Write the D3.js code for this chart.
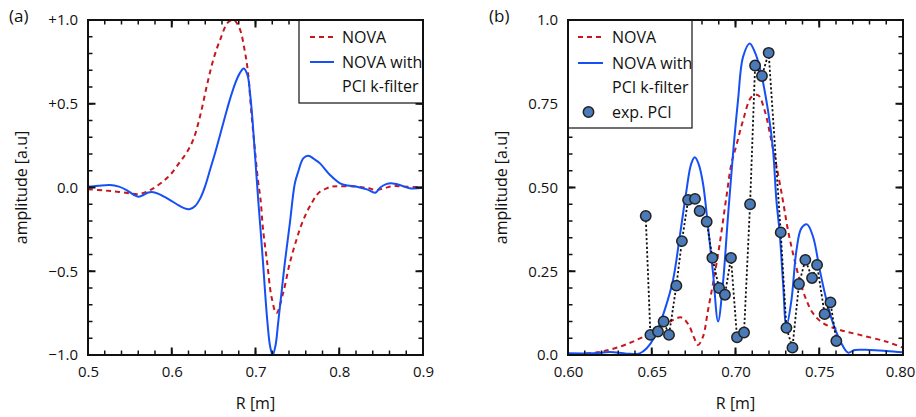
<!DOCTYPE html>
<html>
<head>
<meta charset="utf-8">
<script src="https://cdn.jsdelivr.net/npm/d3@7/dist/d3.min.js"></script>
<style>
  html, body { margin: 0; padding: 0; background: #fff; }
  svg text { font-family: "Open Sans", "DejaVu Sans", sans-serif; fill: #111; }
</style>
</head>
<body>
<svg id="chart" width="916" height="417"></svg>
<script>
// ---------- Panel (a): simulated mode structure ----------
const novaA = [
  [0.500,-0.010],[0.520,-0.018],[0.535,-0.025],[0.550,-0.035],[0.560,-0.040],[0.570,-0.025],
  [0.578,-0.005],[0.588,0.030],[0.598,0.075],[0.610,0.154],[0.618,0.210],[0.626,0.290],
  [0.634,0.430],[0.642,0.610],[0.650,0.770],[0.658,0.885],[0.667,0.985],[0.674,1.000],
  [0.681,0.950],[0.687,0.820],[0.691,0.690],[0.695,0.450],[0.699,0.240],[0.703,0.040],
  [0.706,-0.070],[0.709,-0.250],[0.714,-0.450],[0.719,-0.650],[0.725,-0.750],[0.733,-0.630],
  [0.741,-0.450],[0.749,-0.310],[0.755,-0.220],[0.761,-0.150],[0.767,-0.094],[0.773,-0.045],
  [0.777,-0.025],[0.785,-0.005],[0.791,0.005],[0.800,0.008],[0.820,0.005],[0.835,-0.005],
  [0.845,-0.015],[0.855,-0.002],[0.865,0.008],[0.880,0.005],[0.900,0.000]
];
const filteredA = [
  [0.500,0.005],[0.512,0.010],[0.526,0.015],[0.537,0.005],[0.546,-0.015],[0.555,-0.045],
  [0.560,-0.055],[0.566,-0.045],[0.572,-0.030],[0.578,-0.028],[0.585,-0.040],[0.592,-0.058],
  [0.598,-0.075],[0.606,-0.100],[0.614,-0.122],[0.621,-0.130],[0.628,-0.110],[0.634,-0.065],
  [0.640,0.010],[0.646,0.110],[0.652,0.210],[0.658,0.320],[0.664,0.430],[0.670,0.535],
  [0.676,0.625],[0.681,0.680],[0.686,0.710],[0.6905,0.670],[0.6935,0.560],[0.6960,0.430],
  [0.6994,0.194],[0.7034,-0.085],[0.706,-0.250],[0.709,-0.450],[0.714,-0.790],[0.7175,-0.950],
  [0.7205,-1.000],[0.724,-0.940],[0.727,-0.810],[0.731,-0.630],[0.735,-0.450],[0.741,-0.214],
  [0.747,0.025],[0.751,0.094],[0.757,0.174],[0.763,0.190],[0.770,0.170],[0.777,0.144],
  [0.789,0.075],[0.801,0.025],[0.810,0.012],[0.821,0.005],[0.833,-0.011],[0.843,-0.031],
  [0.849,0.000],[0.856,0.020],[0.862,0.025],[0.872,0.015],[0.884,-0.005],[0.900,-0.002]
];
const xTicksA = [0.5, 0.6, 0.7, 0.8, 0.9];
const yTicksA = [-1.0, -0.5, 0.0, 0.5, 1.0];
const yTickLabelsA = ["\u22121.0", "\u22120.5", "0.0", "+0.5", "+1.0"];

// ---------- Panel (b): amplitude profiles vs. PCI measurement ----------
const novaB = [
  [0.600,0.000],[0.610,0.004],[0.620,0.010],[0.631,0.025],[0.641,0.045],[0.651,0.070],
  [0.661,0.100],[0.6677,0.112],[0.672,0.090],[0.675,0.055],[0.6776,0.030],[0.6806,0.055],
  [0.6836,0.134],[0.6866,0.214],[0.6906,0.333],[0.6946,0.473],[0.6976,0.572],[0.7005,0.625],
  [0.7045,0.700],[0.7095,0.770],[0.7134,0.776],[0.7174,0.730],[0.7214,0.640],[0.7254,0.540],
  [0.7284,0.458],[0.7313,0.373],[0.7343,0.304],[0.7383,0.224],[0.7423,0.164],[0.7463,0.124],
  [0.7522,0.095],[0.7622,0.075],[0.7742,0.060],[0.790,0.040],[0.800,0.022]
];
const filteredB = [
  [0.600,0.005],[0.615,0.005],[0.625,0.009],[0.635,0.004],[0.6428,0.005],[0.647,0.020],
  [0.6518,0.055],[0.6577,0.134],[0.6627,0.224],[0.6667,0.353],[0.6707,0.490],[0.6735,0.570],
  [0.6757,0.590],[0.678,0.570],[0.6806,0.512],[0.6836,0.383],[0.6866,0.244],[0.6896,0.100],
  [0.6925,0.214],[0.6955,0.413],[0.6985,0.600],[0.7015,0.760],[0.7045,0.890],[0.7085,0.930],
  [0.7115,0.905],[0.7144,0.860],[0.7194,0.730],[0.7224,0.612],[0.7244,0.463],[0.7264,0.363],
  [0.7284,0.214],[0.7304,0.085],[0.7334,0.164],[0.7364,0.313],[0.7393,0.378],[0.7427,0.390],
  [0.7463,0.353],[0.7503,0.254],[0.7543,0.164],[0.7582,0.095],[0.7632,0.035],[0.7672,0.007],
  [0.7712,0.015],[0.780,0.015],[0.790,0.012],[0.800,0.008]
];
const pciR = [0.6464,0.6492,0.6537,0.6571,0.6603,0.6647,0.6680,0.6717,0.6758,0.6786,0.6828,
  0.6862,0.6902,0.6937,0.6973,0.7009,0.7051,0.7087,0.7117,0.7158,0.7198,0.7270,0.7304,0.7340,
  0.7379,0.7417,0.7457,0.7487,0.7532,0.7567,0.7602];
const pciAmp = [0.415,0.060,0.070,0.100,0.060,0.207,0.340,0.463,0.466,0.430,0.398,
  0.290,0.200,0.180,0.290,0.053,0.067,0.450,0.864,0.833,0.902,0.366,0.081,0.022,
  0.212,0.284,0.230,0.269,0.122,0.157,0.042];
const xTicksB = [0.60, 0.65, 0.70, 0.75, 0.80];
const yTicksB = [0.0, 0.25, 0.50, 0.75, 1.0];
const yTickLabelsB = ["0.0", "0.25", "0.50", "0.75", "1.0"];

const legendA = ["NOVA", ["NOVA with", "PCI k-filter"]];
const legendB = ["NOVA", ["NOVA with", "PCI k-filter"], "exp. PCI"];

// ---------- styling ----------
const RED = "#c8161d", BLUE = "#1450f5", DOT = "#4a7ab8", INK = "#111111";
const TICK_FONT = 15, TEXT_FONT = 16;
const svg = d3.select("#chart");

function panel(opt) {
  const x = d3.scaleLinear().domain(opt.xDomain).range([opt.left, opt.right]);
  const y = d3.scaleLinear().domain(opt.yDomain).range([opt.bottom, opt.top]);
  const g = svg.append("g");

  const clipId = "clip-" + opt.id;
  svg.append("defs").append("clipPath").attr("id", clipId).append("rect")
    .attr("x", opt.left).attr("y", opt.top - 2)
    .attr("width", opt.right - opt.left).attr("height", opt.bottom - opt.top + 4);

  const line = d3.line().x(d => x(d[0])).y(d => y(d[1])).curve(d3.curveCatmullRom.alpha(0.5));
  const plot = g.append("g").attr("clip-path", `url(#${clipId})`);

  plot.append("path").datum(opt.nova).attr("d", line)
    .attr("fill", "none").attr("stroke", RED).attr("stroke-width", 2)
    .attr("stroke-dasharray", "5,4");
  plot.append("path").datum(opt.filtered).attr("d", line)
    .attr("fill", "none").attr("stroke", BLUE).attr("stroke-width", 2);

  if (opt.pciR) {
    const pts = opt.pciR.map((r, i) => [r, opt.pciAmp[i]]);
    plot.append("path").datum(pts).attr("d", d3.line().x(d => x(d[0])).y(d => y(d[1])))
      .attr("fill", "none").attr("stroke", INK).attr("stroke-width", 1.8)
      .attr("stroke-dasharray", "2.2,2.2");
    plot.selectAll("circle.pt").data(pts).join("circle").attr("class", "pt")
      .attr("cx", d => x(d[0])).attr("cy", d => y(d[1])).attr("r", 5.2)
      .attr("fill", DOT).attr("stroke", "#222").attr("stroke-width", 1.5);
  }

  // tick labels via d3 axes
  const gx = g.append("g").attr("transform", `translate(0,${opt.bottom})`)
    .call(d3.axisBottom(x).tickValues(opt.xTicks).tickSize(0).tickPadding(11)
      .tickFormat((d, i) => opt.xLabels[i]));
  const gy = g.append("g").attr("transform", `translate(${opt.left},0)`)
    .call(d3.axisLeft(y).tickValues(opt.yTicks).tickSize(0).tickPadding(10)
      .tickFormat((d, i) => opt.yLabels[i]));
  [gx, gy].forEach(a => {
    a.select(".domain").remove();
    a.selectAll("text").attr("font-size", TICK_FONT)
      .style("font-family", '"Open Sans", sans-serif').attr("fill", INK);
  });
  if (opt.lastXShift) gx.selectAll("text").filter((d, i) => i === opt.xTicks.length - 1)
    .attr("dx", opt.lastXShift);

  // inward tick marks on all four sides (major + minor)
  const minorX = d3.range(opt.xDomain[0], opt.xDomain[1] + 1e-9, opt.xMinor);
  const minorY = d3.range(opt.yDomain[0], opt.yDomain[1] + 1e-9, opt.yMinor);
  const tk = g.append("g");
  [[minorX, minorY, 4.5, 1.5], [opt.xTicks, opt.yTicks, 7.5, 2]].forEach(([xv, yv, len, w]) => {
    tk.append("g").selectAll("line").data(xv).join("line")
      .attr("x1", d => x(d)).attr("x2", d => x(d))
      .attr("y1", opt.bottom).attr("y2", opt.bottom - len)
      .attr("stroke", INK).attr("stroke-width", w);
    tk.append("g").selectAll("line").data(xv).join("line")
      .attr("x1", d => x(d)).attr("x2", d => x(d))
      .attr("y1", opt.top).attr("y2", opt.top + len)
      .attr("stroke", INK).attr("stroke-width", w);
    tk.append("g").selectAll("line").data(yv).join("line")
      .attr("y1", d => y(d)).attr("y2", d => y(d))
      .attr("x1", opt.left).attr("x2", opt.left + len)
      .attr("stroke", INK).attr("stroke-width", w);
    tk.append("g").selectAll("line").data(yv).join("line")
      .attr("y1", d => y(d)).attr("y2", d => y(d))
      .attr("x1", opt.right).attr("x2", opt.right - len)
      .attr("stroke", INK).attr("stroke-width", w);
  });

  // frame
  g.append("rect").attr("x", opt.left).attr("y", opt.top)
    .attr("width", opt.right - opt.left).attr("height", opt.bottom - opt.top)
    .attr("fill", "none").attr("stroke", INK).attr("stroke-width", 2);

  // axis titles and panel tag
  g.append("text").attr("x", (opt.left + opt.right) / 2).attr("y", 409)
    .attr("text-anchor", "middle").attr("font-size", TEXT_FONT).text("R [m]");
  g.append("text")
    .attr("transform", `translate(${opt.yTitleX},${(opt.top + opt.bottom) / 2}) rotate(-90)`)
    .attr("text-anchor", "middle").attr("font-size", TEXT_FONT).text("amplitude [a.u]");
  g.append("text").attr("x", opt.tagX).attr("y", 22).attr("font-size", 17).text(opt.tag);

  // legend, boxed over the tick marks it overlaps
  const L = opt.legend;
  const lg = g.append("g");
  lg.append("rect").attr("x", L.x0).attr("y", opt.top).attr("width", L.x1 - L.x0)
    .attr("height", L.y1 - opt.top).attr("fill", "#fff").attr("stroke", INK).attr("stroke-width", 1.2);
  lg.append("line").attr("x1", L.sx0).attr("x2", L.sx1).attr("y1", L.rows[0]).attr("y2", L.rows[0])
    .attr("stroke", RED).attr("stroke-width", 2).attr("stroke-dasharray", "5,4");
  lg.append("text").attr("x", L.tx).attr("y", L.rows[0]).attr("dy", "0.35em")
    .attr("font-size", TEXT_FONT).text(opt.legendText[0]);
  lg.append("line").attr("x1", L.sx0).attr("x2", L.sx1).attr("y1", L.rows[1]).attr("y2", L.rows[1])
    .attr("stroke", BLUE).attr("stroke-width", 2);
  opt.legendText[1].forEach((t, i) => {
    lg.append("text").attr("x", L.tx).attr("y", L.rows[1] + i * 24).attr("dy", "0.35em")
      .attr("font-size", TEXT_FONT).text(t);
  });
  if (opt.legendText[2]) {
    lg.append("circle").attr("cx", (L.sx0 + L.sx1) / 2 - 2).attr("cy", L.rows[2]).attr("r", 5.2)
      .attr("fill", DOT).attr("stroke", "#222").attr("stroke-width", 1.5);
    lg.append("text").attr("x", L.tx).attr("y", L.rows[2]).attr("dy", "0.35em")
      .attr("font-size", TEXT_FONT).text(opt.legendText[2]);
  }
  // keep the outer frame crisp along the legend edges
  g.append("rect").attr("x", opt.left).attr("y", opt.top)
    .attr("width", opt.right - opt.left).attr("height", opt.bottom - opt.top)
    .attr("fill", "none").attr("stroke", INK).attr("stroke-width", 2);
}

panel({
  id: "a", tag: "(a)", tagX: 9,
  left: 88, right: 423, top: 20, bottom: 355,
  xDomain: [0.5, 0.9], yDomain: [-1, 1], xMinor: 0.02, yMinor: 0.1,
  xTicks: xTicksA, yTicks: yTicksA,
  xLabels: xTicksA.map(d => d.toFixed(1)), yLabels: yTickLabelsA,
  nova: novaA, filtered: filteredA, yTitleX: 27,
  legend: { x0: 299, x1: 423, y1: 103, sx0: 310, sx1: 334, tx: 342, rows: [37, 62] },
  legendText: legendA
});

panel({
  id: "b", tag: "(b)", tagX: 489,
  left: 568, right: 903, top: 20, bottom: 355,
  xDomain: [0.6, 0.8], yDomain: [0, 1], xMinor: 0.01, yMinor: 0.05,
  xTicks: xTicksB, yTicks: yTicksB,
  xLabels: xTicksB.map(d => d.toFixed(2)), yLabels: yTickLabelsB,
  nova: novaB, filtered: filteredB, pciR: pciR, pciAmp: pciAmp, yTitleX: 507,
  lastXShift: -3,
  legend: { x0: 568, x1: 692, y1: 128, sx0: 578, sx1: 603, tx: 612, rows: [37, 63, 112] },
  legendText: legendB
});
</script>
</body>
</html>
